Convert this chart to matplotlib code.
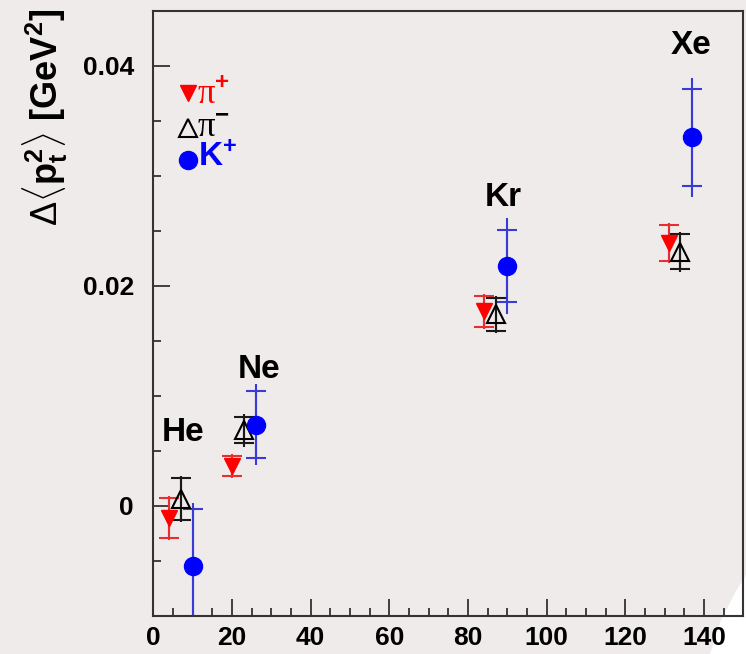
import matplotlib
matplotlib.use("Agg")
import matplotlib.pyplot as plt
from matplotlib.patches import Polygon
from matplotlib.ticker import MultipleLocator, FixedLocator

plt.rcParams['font.family'] = ['Liberation Sans', 'DejaVu Sans']
plt.rcParams['mathtext.fontset'] = 'custom'
plt.rcParams['mathtext.rm'] = 'Liberation Sans'
plt.rcParams['mathtext.bf'] = 'Liberation Sans:bold'
plt.rcParams['mathtext.it'] = 'Liberation Sans:italic'

# ---- data (mass number A vs. Delta <pt^2>) ----
nuclei = ['He', 'Ne', 'Kr', 'Xe']

x_pip = [4, 20, 84, 131]
y_pip = [-0.0011, 0.0036, 0.0177, 0.0239]
cap_pip = [0.0018, 0.0009, 0.0014, 0.0016]
line_pip = [0.0020, 0.0011, 0.0016, 0.0018]

x_pim = [7, 23, 87, 134]
y_pim = [0.0006, 0.0069, 0.0174, 0.0231]
cap_pim = [0.0019, 0.0012, 0.0015, 0.0016]
line_pim = [0.0021, 0.0015, 0.0017, 0.0018]

x_kp = [10, 26, 90, 137]
y_kp = [-0.0055, 0.0074, 0.0218, 0.0335]
cap_kp = [0.0052, 0.0030, 0.0033, 0.0044]
line_kp = [0.0058, 0.0037, 0.0044, 0.0054]

label_x = [7.5, 27, 89, 136.6]
label_y = [0.0067, 0.0124, 0.0280, 0.0418]

xticks = [0, 20, 40, 60, 80, 100, 120, 140]
xticklabels = ['0', '20', '40', '60', '80', '100', '120', '140']
yticks = [0.0, 0.02, 0.04]
yticklabels = ['0', '0.02', '0.04']

bg = '#f0ebeb'
fig = plt.figure(figsize=(7.46, 6.54), dpi=100, facecolor=bg)
ax = fig.add_axes([0.2055, 0.0581, 0.7909, 0.9255], facecolor=bg)

# page-curl white corner (decoration)
curl = Polygon([(710/746, 0), (1.0, 0), (1.0, 1 - 575/654), (735/746, 1 - 593/654),
                (721/746, 1 - 620/654)], closed=True, transform=fig.transFigure,
               facecolor='white', edgecolor='none', zorder=-5)
fig.patches.append(curl)
ax.patch.set_alpha(0.0)

series = [
    (x_pip, y_pip, cap_pip, line_pip, '#e63030', 'v', dict(mfc='#ff0000', mec='#ff0000', ms=12)),
    (x_pim, y_pim, cap_pim, line_pim, '#1a1a1a', '^', dict(mfc='none', mec='black', ms=13, mew=1.5)),
    (x_kp, y_kp, cap_kp, line_kp, '#3a3ad6', 'o', dict(mfc='#0000ff', mec='#0000ff', ms=13)),
]
for xs, ys, caps, lines, ecol, mk, mkw in series:
    ax.errorbar(xs, ys, yerr=lines, fmt='none', ecolor=ecol, elinewidth=1.5, capsize=0, zorder=2)
    ax.errorbar(xs, ys, yerr=caps, fmt='none', ecolor=ecol, elinewidth=1.5, capsize=7,
                capthick=1.5, zorder=2)
    ax.plot(xs, ys, linestyle='none', marker=mk, zorder=3, **mkw)

for name, lx, ly in zip(nuclei, label_x, label_y):
    ax.text(lx, ly, name, fontsize=24, fontweight='bold', ha='center', va='center', color='black')

# legend
tr = ax.transAxes
ax.plot([0.059], [0.864], marker='v', ms=12, color='#ff0000', transform=tr, clip_on=False)
ax.plot([0.059], [0.806], marker='^', ms=13, mfc='none', mec='black', mew=1.5, transform=tr, clip_on=False)
ax.plot([0.059], [0.753], marker='o', ms=13, color='#0000ff', transform=tr, clip_on=False)
ax.text(0.074, 0.862, r'π$^{\mathbf{+}}$', transform=tr, fontsize=25, color='#ff0000', va='center',
        family=['Liberation Serif', 'DejaVu Serif'])
ax.text(0.074, 0.806, r'π$^{\mathbf{-}}$', transform=tr, fontsize=25, color='black', va='center',
        family=['Liberation Serif', 'DejaVu Serif'])
ax.text(0.076, 0.757, r'K$^{\mathbf{+}}$', transform=tr, fontsize=24, fontweight='bold',
        color='#0000ff', va='center')

ax.set_xlim(0, 150)
ax.set_ylim(-0.01, 0.045)
ax.xaxis.set_major_locator(FixedLocator(xticks))
ax.set_xticklabels(xticklabels)
ax.xaxis.set_minor_locator(MultipleLocator(5))
ax.yaxis.set_major_locator(FixedLocator(yticks))
ax.set_yticklabels(yticklabels)
ax.yaxis.set_minor_locator(MultipleLocator(0.005))

ax.tick_params(which='both', direction='in', top=False, right=False, color='#333333', width=1.3)
ax.tick_params(which='major', length=12, labelsize=19)
ax.tick_params(which='minor', length=6)
ax.tick_params(axis='x', which='major', pad=7)
ax.tick_params(axis='y', which='major', pad=14)
for lab in ax.get_xticklabels() + ax.get_yticklabels():
    lab.set_fontweight('bold')
for s in ax.spines.values():
    s.set_color('#333333')
    s.set_linewidth(1.5)

fig.text(0.061, 0.82, r'$\Delta\langle\mathbf{p}_{\mathbf{t}}^{\mathbf{2}}\rangle$ [GeV$^{\mathbf{2}}$]',
         rotation=90, fontsize=26, fontweight='bold', ha='center', va='center')

fig.savefig('out.png', dpi=100, facecolor=bg)
